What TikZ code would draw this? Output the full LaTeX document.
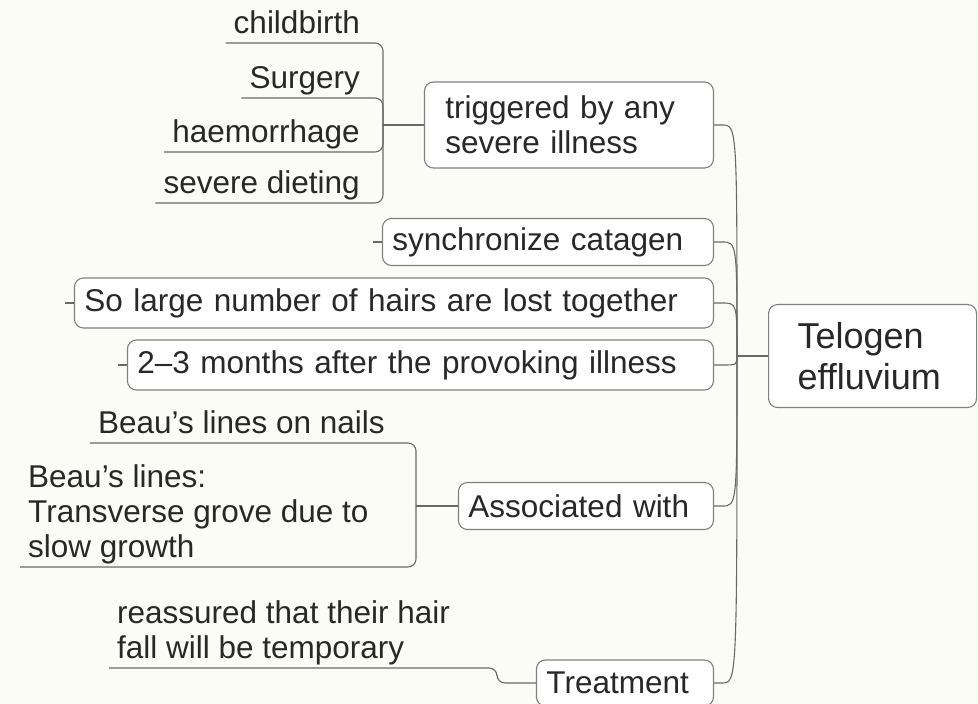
\documentclass[tikz,border=0pt]{standalone}
\usepackage{fontspec}
\setmainfont{Liberation Sans}
\usetikzlibrary{positioning}
\definecolor{paper}{RGB}{252,252,246}
\definecolor{ink}{RGB}{40,40,40}
\definecolor{wire}{RGB}{105,105,105}
\tikzset{
	topic/.style={draw=wire!85,line width=1.1pt,rounded corners=9pt,fill=white,text=ink,align=left,inner xsep=10pt,inner ysep=0pt,minimum height=48pt,anchor=east},
	leaf/.style={text=ink,inner xsep=8pt,inner ysep=2pt,text depth=7pt},
	link/.style={draw=wire,line width=1.1pt}
}

\begin{document}
\begin{tikzpicture}[x=1pt,y=-1pt,font=\fontsize{31.5}{35}\selectfont]
	\useasboundingbox (0,0) rectangle (978,704);
	\clip (0,0) rectangle (978,704);
	\fill[paper] (0,0) rectangle (978,704);
	\node[topic,anchor=west,text width=150pt,inner xsep=29pt,minimum height=103pt,font=\fontsize{36}{41}\selectfont] (0) at (768,356) {Telogen\\effluvium};
	\node[topic,text width=247pt,inner xsep=21pt,minimum height=86pt] (1) at (714,125) {triggered by any\\severe illness};
	\node[topic,text width=311pt,minimum height=47pt] (2) at (714,242) {synchronize catagen};
	\node[topic,text width=619pt,minimum height=50pt] (3) at (714,303) {So large number of hairs are lost together};
	\node[topic,text width=566pt,minimum height=50pt] (4) at (714,365) {2--3 months after the provoking illness};
	\node[topic,text width=235pt,minimum height=47pt] (5) at (714,506) {Associated with};
	\node[topic,text width=157pt,minimum height=46pt] (6) at (714,683) {Treatment};
	\node[leaf,anchor=south east] (11) at (368,43) {childbirth};
	\node[leaf,anchor=south east] (12) at (368,98) {Surgery};
	\node[leaf,anchor=south east] (13) at (368,152) {haemorrhage};
	\node[leaf,anchor=south east] (14) at (368,203) {severe dieting};
	\node[leaf,anchor=south east] (51) at (393,443) {Beau’s lines on nails};
	\node[leaf,anchor=south west,align=left] (52) at (20,567) {Beau’s lines:\\Transverse grove due to\\slow growth};
	\node[leaf,anchor=south west,align=left] (61) at (109,668) {reassured that their hair\\fall will be temporary};
	\coordinate (hub) at (737,356);
	\coordinate (h1) at (383,125);
	\coordinate (h5) at (416,506);
	\coordinate (h6) at (497,683);
	\draw[link] (hub) -- (0.west);
	\draw[link] (1.east) -- ++(8,0) .. controls (hub |- 1.east) .. (hub);
	\draw[link] (2.east) -- ++(8,0) .. controls (hub |- 2.east) .. (hub);
	\draw[link] (3.east) -- ++(8,0) .. controls (hub |- 3.east) .. (hub);
	\draw[link] (4.east) -- ++(8,0) .. controls (hub |- 4.east) .. (hub);
	\draw[link] (5.east) -- ++(8,0) .. controls (hub |- 5.east) .. (hub);
	\draw[link] (6.east) -- ++(8,0) .. controls (hub |- 6.east) .. (hub);
	\draw[link] (2.west) -- ++(-9,0);
	\draw[link] (3.west) -- ++(-9,0);
	\draw[link] (4.west) -- ++(-9,0);
	\draw[link] (1.west) -- (h1);
	\draw[link,rounded corners=8pt] (h1) |- (11.south west);
	\draw[link,rounded corners=8pt] (h1) |- (12.south west);
	\draw[link,rounded corners=8pt] (h1) |- (13.south west);
	\draw[link,rounded corners=8pt] (h1) |- (14.south west);
	\draw[link] (5.west) -- (h5);
	\draw[link,rounded corners=8pt] (h5) |- (51.south west);
	\draw[link,rounded corners=8pt] (h5) |- (52.south west);
	\draw[link,rounded corners=8pt] (6.west) -- (h6) |- (61.south west);
\end{tikzpicture}
\end{document}
